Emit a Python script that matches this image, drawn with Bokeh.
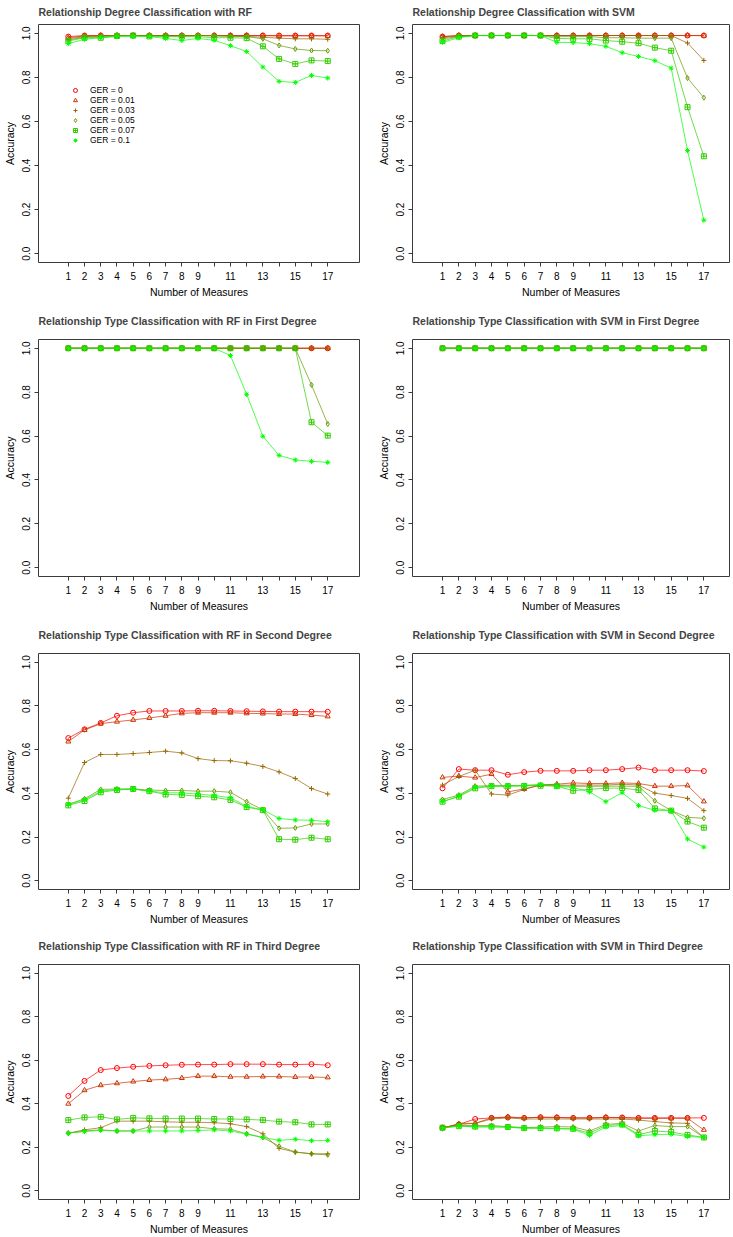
from bokeh.plotting import figure
from bokeh.layouts import column, row
from bokeh.models import FixedTicker, Range1d, Legend, LegendItem
from bokeh.embed import file_html
from bokeh.resources import INLINE

measures = [1, 2, 3, 4, 5, 6, 7, 8, 9, 10, 11, 12, 13, 14, 15, 16, 17]
x_tick_labels = ["1", "2", "3", "4", "5", "6", "7", "8", "9", "", "11", "", "13", "", "15", "", "17"]
y_ticks = [0.0, 0.2, 0.4, 0.6, 0.8, 1.0]
y_tick_labels = ["0.0", "0.2", "0.4", "0.6", "0.8", "1.0"]
ger_labels = ["GER = 0", "GER = 0.01", "GER = 0.03", "GER = 0.05", "GER = 0.07", "GER = 0.1"]

titles = [
    "Relationship Degree Classification with RF",
    "Relationship Degree Classification with SVM",
    "Relationship Type Classification with RF in First Degree",
    "Relationship Type Classification with SVM in First Degree",
    "Relationship Type Classification with RF in Second Degree",
    "Relationship Type Classification with SVM in Second Degree",
    "Relationship Type Classification with RF in Third Degree",
    "Relationship Type Classification with SVM in Third Degree",
]

# each panel: one list per GER level (0, 0.01, 0.03, 0.05, 0.07, 0.1)
rf_degree = [
    [0.985, 0.99, 0.99, 0.99, 0.99, 0.99, 0.99, 0.99, 0.99, 0.99, 0.99, 0.99, 0.99, 0.99, 0.99, 0.99, 0.99],
    [0.98, 0.988, 0.99, 0.99, 0.99, 0.99, 0.99, 0.99, 0.99, 0.99, 0.99, 0.99, 0.989, 0.988, 0.988, 0.988, 0.988],
    [0.975, 0.985, 0.987, 0.99, 0.99, 0.99, 0.99, 0.99, 0.99, 0.99, 0.988, 0.986, 0.982, 0.978, 0.975, 0.975, 0.973],
    [0.97, 0.982, 0.985, 0.99, 0.99, 0.99, 0.988, 0.988, 0.99, 0.988, 0.986, 0.985, 0.975, 0.945, 0.929, 0.922, 0.921],
    [0.965, 0.98, 0.98, 0.988, 0.99, 0.986, 0.985, 0.985, 0.985, 0.98, 0.98, 0.978, 0.941, 0.884, 0.861, 0.877, 0.874],
    [0.953, 0.973, 0.98, 0.985, 0.986, 0.985, 0.977, 0.967, 0.977, 0.968, 0.944, 0.917, 0.847, 0.782, 0.777, 0.809, 0.797],
]
svm_degree = [
    [0.985, 0.99, 0.99, 0.99, 0.99, 0.99, 0.99, 0.99, 0.99, 0.99, 0.99, 0.99, 0.99, 0.99, 0.99, 0.99, 0.99],
    [0.985, 0.99, 0.99, 0.99, 0.99, 0.99, 0.99, 0.99, 0.99, 0.99, 0.99, 0.99, 0.99, 0.99, 0.99, 0.99, 0.989],
    [0.98, 0.988, 0.99, 0.99, 0.99, 0.99, 0.99, 0.99, 0.99, 0.99, 0.99, 0.99, 0.99, 0.99, 0.99, 0.956, 0.877],
    [0.975, 0.985, 0.99, 0.99, 0.99, 0.99, 0.99, 0.985, 0.985, 0.985, 0.98, 0.98, 0.978, 0.978, 0.978, 0.797, 0.708],
    [0.965, 0.985, 0.99, 0.99, 0.99, 0.99, 0.99, 0.977, 0.975, 0.975, 0.967, 0.962, 0.955, 0.935, 0.921, 0.665, 0.442],
    [0.959, 0.98, 0.99, 0.99, 0.99, 0.99, 0.99, 0.959, 0.958, 0.953, 0.941, 0.912, 0.895, 0.876, 0.842, 0.468, 0.152],
]
rf_first = [
    [1.0, 1.0, 1.0, 1.0, 1.0, 1.0, 1.0, 1.0, 1.0, 1.0, 1.0, 1.0, 1.0, 1.0, 1.0, 1.0, 1.0],
    [1.0, 1.0, 1.0, 1.0, 1.0, 1.0, 1.0, 1.0, 1.0, 1.0, 1.0, 1.0, 1.0, 1.0, 1.0, 1.0, 1.0],
    [1.0, 1.0, 1.0, 1.0, 1.0, 1.0, 1.0, 1.0, 1.0, 1.0, 1.0, 1.0, 1.0, 1.0, 1.0, 1.0, 1.0],
    [1.0, 1.0, 1.0, 1.0, 1.0, 1.0, 1.0, 1.0, 1.0, 1.0, 1.0, 1.0, 1.0, 1.0, 1.0, 0.833, 0.655],
    [1.0, 1.0, 1.0, 1.0, 1.0, 1.0, 1.0, 1.0, 1.0, 1.0, 1.0, 1.0, 1.0, 1.0, 1.0, 0.663, 0.602],
    [1.0, 1.0, 1.0, 1.0, 1.0, 1.0, 1.0, 1.0, 1.0, 1.0, 0.967, 0.790, 0.599, 0.512, 0.491, 0.485, 0.480],
]
svm_first = [
    [1.0, 1.0, 1.0, 1.0, 1.0, 1.0, 1.0, 1.0, 1.0, 1.0, 1.0, 1.0, 1.0, 1.0, 1.0, 1.0, 1.0],
    [1.0, 1.0, 1.0, 1.0, 1.0, 1.0, 1.0, 1.0, 1.0, 1.0, 1.0, 1.0, 1.0, 1.0, 1.0, 1.0, 1.0],
    [1.0, 1.0, 1.0, 1.0, 1.0, 1.0, 1.0, 1.0, 1.0, 1.0, 1.0, 1.0, 1.0, 1.0, 1.0, 1.0, 1.0],
    [1.0, 1.0, 1.0, 1.0, 1.0, 1.0, 1.0, 1.0, 1.0, 1.0, 1.0, 1.0, 1.0, 1.0, 1.0, 1.0, 1.0],
    [1.0, 1.0, 1.0, 1.0, 1.0, 1.0, 1.0, 1.0, 1.0, 1.0, 1.0, 1.0, 1.0, 1.0, 1.0, 1.0, 1.0],
    [1.0, 1.0, 1.0, 1.0, 1.0, 1.0, 1.0, 1.0, 1.0, 1.0, 1.0, 1.0, 1.0, 1.0, 1.0, 1.0, 1.0],
]
rf_second = [
    [0.653, 0.693, 0.722, 0.755, 0.769, 0.777, 0.777, 0.777, 0.778, 0.778, 0.777, 0.776, 0.775, 0.774, 0.774, 0.774, 0.773],
    [0.637, 0.690, 0.719, 0.728, 0.736, 0.745, 0.755, 0.766, 0.769, 0.769, 0.769, 0.766, 0.765, 0.763, 0.763, 0.758, 0.752],
    [0.378, 0.541, 0.578, 0.578, 0.582, 0.587, 0.593, 0.585, 0.559, 0.550, 0.549, 0.538, 0.523, 0.498, 0.468, 0.422, 0.397],
    [0.350, 0.375, 0.418, 0.420, 0.420, 0.415, 0.413, 0.413, 0.410, 0.410, 0.405, 0.362, 0.325, 0.240, 0.242, 0.260, 0.260],
    [0.345, 0.365, 0.405, 0.415, 0.420, 0.410, 0.395, 0.393, 0.387, 0.382, 0.370, 0.337, 0.323, 0.190, 0.188, 0.197, 0.190],
    [0.350, 0.370, 0.410, 0.418, 0.420, 0.410, 0.403, 0.402, 0.397, 0.390, 0.380, 0.340, 0.325, 0.285, 0.278, 0.277, 0.270],
]
svm_second = [
    [0.423, 0.511, 0.506, 0.506, 0.485, 0.497, 0.503, 0.503, 0.503, 0.506, 0.506, 0.511, 0.518, 0.506, 0.506, 0.506, 0.502],
    [0.473, 0.479, 0.472, 0.488, 0.407, 0.420, 0.438, 0.442, 0.448, 0.445, 0.445, 0.448, 0.445, 0.433, 0.433, 0.436, 0.363],
    [0.438, 0.477, 0.506, 0.397, 0.392, 0.418, 0.438, 0.438, 0.437, 0.438, 0.438, 0.442, 0.438, 0.401, 0.390, 0.377, 0.321],
    [0.372, 0.392, 0.433, 0.435, 0.435, 0.436, 0.438, 0.436, 0.432, 0.432, 0.433, 0.433, 0.432, 0.366, 0.321, 0.290, 0.286],
    [0.362, 0.385, 0.423, 0.433, 0.433, 0.434, 0.435, 0.433, 0.412, 0.418, 0.424, 0.424, 0.415, 0.331, 0.321, 0.271, 0.243],
    [0.362, 0.388, 0.427, 0.433, 0.434, 0.436, 0.441, 0.433, 0.427, 0.407, 0.362, 0.403, 0.344, 0.322, 0.320, 0.191, 0.154],
]
rf_third = [
    [0.436, 0.505, 0.555, 0.564, 0.570, 0.574, 0.577, 0.579, 0.580, 0.580, 0.582, 0.582, 0.582, 0.580, 0.580, 0.582, 0.577],
    [0.400, 0.462, 0.485, 0.494, 0.502, 0.509, 0.512, 0.518, 0.527, 0.527, 0.524, 0.524, 0.525, 0.525, 0.523, 0.523, 0.521],
    [0.265, 0.280, 0.290, 0.320, 0.320, 0.320, 0.317, 0.315, 0.315, 0.313, 0.308, 0.295, 0.262, 0.195, 0.178, 0.170, 0.170],
    [0.265, 0.275, 0.280, 0.275, 0.275, 0.293, 0.293, 0.293, 0.293, 0.285, 0.283, 0.262, 0.245, 0.205, 0.178, 0.170, 0.165],
    [0.325, 0.337, 0.340, 0.328, 0.335, 0.333, 0.332, 0.332, 0.332, 0.330, 0.330, 0.328, 0.325, 0.318, 0.315, 0.305, 0.305],
    [0.265, 0.272, 0.278, 0.275, 0.275, 0.275, 0.275, 0.275, 0.277, 0.280, 0.275, 0.260, 0.245, 0.232, 0.237, 0.230, 0.232],
]
svm_third = [
    [0.290, 0.305, 0.330, 0.335, 0.337, 0.335, 0.338, 0.337, 0.335, 0.335, 0.337, 0.337, 0.335, 0.335, 0.335, 0.335, 0.335],
    [0.290, 0.305, 0.310, 0.335, 0.340, 0.335, 0.338, 0.337, 0.335, 0.335, 0.337, 0.335, 0.333, 0.333, 0.333, 0.333, 0.280],
    [0.285, 0.310, 0.310, 0.330, 0.335, 0.330, 0.330, 0.330, 0.330, 0.330, 0.330, 0.330, 0.325, 0.318, 0.312, 0.310, 0.245],
    [0.290, 0.300, 0.300, 0.300, 0.295, 0.290, 0.293, 0.295, 0.293, 0.275, 0.305, 0.310, 0.275, 0.300, 0.295, 0.295, 0.245],
    [0.290, 0.297, 0.295, 0.295, 0.293, 0.288, 0.288, 0.287, 0.285, 0.265, 0.300, 0.305, 0.258, 0.275, 0.270, 0.257, 0.245],
    [0.288, 0.298, 0.293, 0.293, 0.292, 0.288, 0.288, 0.285, 0.283, 0.255, 0.293, 0.300, 0.253, 0.258, 0.260, 0.250, 0.245],
]

panels = [rf_degree, svm_degree, rf_first, svm_first, rf_second, svm_second, rf_third, svm_third]

colors = ["#FF0000", "#CC3300", "#996600", "#669900", "#33CC00", "#00FF00"]
markers = ["circle", "triangle", "cross", "diamond", "square_cross", "asterisk"]

FONT = "Liberation Sans"
row_heights = [300, 314, 313, 310]
row_top = [24, 39, 39, 37]
row_bottom = [37, 38, 38, 36]
title_standoff = [9, 22, 22, 22]
col_width = [366, 367]
col_left = [36, 46]
col_right = [7, 4]
col_xrange = [(-0.839, 18.96), (-0.837, 18.57)]


def make_panel(idx):
    r, c = divmod(idx, 2)
    p = figure(
        width=col_width[c], height=row_heights[r],
        x_range=Range1d(*col_xrange[c]), y_range=Range1d(-0.04, 1.04),
        output_backend="svg", toolbar_location=None, title=titles[idx],
        min_border_left=col_left[c], min_border_right=col_right[c],
        min_border_top=row_top[r], min_border_bottom=row_bottom[r],
    )
    p.title.align = "left"
    p.title.vertical_align = "top"
    p.title.text_font = FONT
    p.title.text_font_style = "bold"
    p.title.text_font_size = "10.5px"
    p.title.standoff = title_standoff[r]
    p.title.offset = 0

    p.grid.visible = False
    p.outline_line_color = "#3a3a3a"
    p.outline_line_width = 1
    p.outline_line_alpha = 1.0
    p.background_fill_color = "white"
    p.border_fill_color = "white"

    p.xaxis.ticker = FixedTicker(ticks=measures)
    p.xaxis.major_label_overrides = {m: lab for m, lab in zip(measures, x_tick_labels)}
    p.yaxis.ticker = FixedTicker(ticks=y_ticks)
    p.yaxis.major_label_overrides = {t: lab for t, lab in zip(y_ticks, y_tick_labels)}
    p.yaxis.major_label_orientation = "vertical"
    for ax in (p.xaxis, p.yaxis):
        ax.axis_line_color = None
        ax.major_tick_in = 0
        ax.major_tick_out = 4
        ax.major_tick_line_color = "#3a3a3a"
        ax.minor_tick_line_color = None
        ax.major_label_text_font = FONT
        ax.major_label_text_font_size = "10px"
        ax.major_label_text_color = "black"
        ax.axis_label_text_font = FONT
        ax.axis_label_text_font_size = "10.5px"
        ax.axis_label_text_font_style = "normal"
        ax.axis_label_text_color = "black"
    p.xaxis.major_label_standoff = 5
    p.yaxis.major_label_standoff = 4
    p.xaxis.axis_label_standoff = 3
    p.yaxis.axis_label_standoff = 4
    p.xaxis.axis_label = "Number of Measures"
    p.yaxis.axis_label = "Accuracy"

    items = []
    for series, col, mk, lab in zip(panels[idx], colors, markers, ger_labels):
        p.line(measures, series, line_color=col, line_width=1, line_alpha=0.7)
        sr = p.scatter(measures, series, marker=mk, size=5, line_color=col,
                       fill_color=None, line_width=1)
        items.append(LegendItem(label=lab, renderers=[sr]))

    if idx == 0:
        leg = Legend(items=items, location=(32, 117), glyph_width=10, glyph_height=10,
                     label_height=10, spacing=0, padding=0, margin=0, label_standoff=10,
                     background_fill_alpha=0, border_line_color=None,
                     label_text_font=FONT, label_text_font_size="8.5px",
                     label_text_color="black")
        p.add_layout(leg)
    return p


figs = [make_panel(i) for i in range(8)]
layout = column(
    row(figs[0], figs[1]),
    row(figs[2], figs[3]),
    row(figs[4], figs[5]),
    row(figs[6], figs[7]),
)

open("out.html", "w").write(file_html(layout, INLINE))
